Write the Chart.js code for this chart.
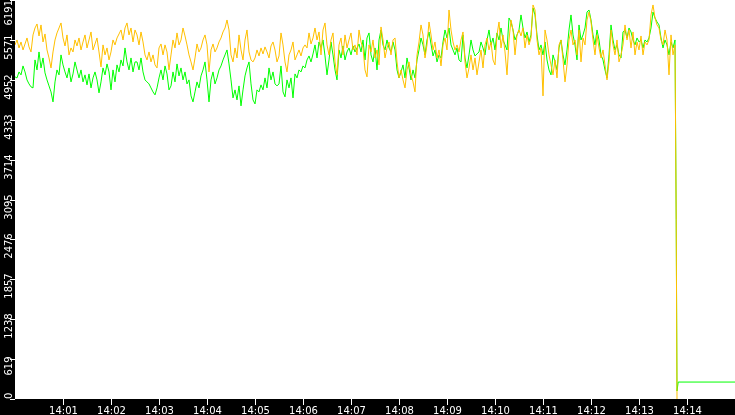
<!DOCTYPE html>
<html>
<head>
<meta charset="utf-8">
<script src="https://cdn.jsdelivr.net/npm/chart.js@4/dist/chart.umd.min.js"></script>
<style>
html,body{margin:0;padding:0;background:#000;}
canvas{display:block;}
</style>
</head>
<body>
<canvas id="c" width="735" height="415"></canvas>
<script>
// ---- data ----
const xTickLabels = ['14:01','14:02','14:03','14:04','14:05','14:06','14:07','14:08','14:09','14:10','14:11','14:12','14:13','14:14'];
const yTickLabels = ['0','619','1238','1857','2476','3095','3714','4333','4952','5571','6191'];
const xStartSeconds = 0;      // 14:00:00
const xEndSeconds = 900;      // 14:15:00
const yMaxValue = 6191;
const sampleStepSeconds = 2.5;

const orangeValues = [
5494,5571,5447,5540,5416,5509,5602,5463,5385,5649,5757,5819,5633,5804,5540,5664,5416,5292,5137,5385,5571,5680,5757,5835,5602,5478,5649,5339,5447,5385,5571,5478,5602,5416,5540,5649,5447,5571,5695,5416,5509,5602,5385,5153,5494,5339,5447,5261,5385,5571,5494,5602,5664,5726,5571,5757,5835,5649,5757,5540,5726,
5649,5494,5695,5540,5339,5261,5385,5230,5339,5184,5137,5447,5509,5339,5494,5385,5106,5339,5571,5447,5680,5494,5571,5757,5633,5494,5339,5230,5106,5292,5509,5385,5447,5571,5649,5494,5075,5416,5509,5385,5447,5540,5602,5695,5757,5881,5726,5339,5230,5447,5292,5649,5416,5261,5571,5726,5385,5261,5230,5292,5416,
5323,5447,5354,5463,5385,5292,5478,5540,5416,5230,5323,5680,5494,5230,5075,5339,5416,5540,5261,5339,5416,5323,5447,5494,5447,5680,5509,5602,5757,5571,5695,5339,5726,5835,5494,5339,5571,5680,5230,5029,5494,5602,5339,5649,5447,5571,5680,5416,5494,5339,5726,5540,5447,5106,4998,5494,5385,5571,5292,5416,
5184,5773,5571,5292,5447,5540,5339,5571,5602,5230,4982,5106,4951,4827,5106,5230,5029,4920,4765,5339,5540,5804,5649,5292,5494,5850,5649,5416,5540,5292,5416,5168,5494,5602,5416,6036,5726,5540,5416,5494,5385,5571,5695,5230,4982,5137,5339,5106,5292,5029,5230,5416,5137,5494,5602,5416,5540,5261,5184,5649,5850,
5447,5649,5385,5029,5571,5881,5726,5339,5649,5726,5633,5757,5447,5649,5494,5602,6114,6036,5571,5339,5447,4703,5726,5571,5339,5184,5029,5261,4982,5494,5571,5261,4920,5184,5571,5726,5494,5571,5339,5726,5230,5602,5494,5881,6005,5850,5571,5339,5649,5447,5292,5416,5184,4951,5230,5726,5494,5339,5571,5230,
5339,5494,5804,5571,5726,5447,5695,5339,5540,5416,5633,5339,5540,5494,5571,5959,6114,5912,5804,5757,5571,5494,5726,5571,5029,5649,5339,5494
];

const greenValues = [
4998,4982,5075,5029,5168,5075,4951,4889,4843,4827,5261,5106,5385,5137,5292,5060,4951,4858,4765,4610,4920,5106,5029,5339,5184,5075,4982,5137,4920,5044,5230,5106,4982,5106,4920,5029,4874,5044,4827,4982,5075,4951,4750,4920,5137,5029,5199,5075,4796,5106,4920,5184,5075,5261,5168,5447,5230,5106,5292,5075,5230,
5230,5106,5292,5075,4951,4920,4889,4827,4765,4719,4827,4982,5106,4951,5168,5044,4796,4858,5075,4920,5199,5013,5137,4951,5075,4889,4951,4703,4610,4765,4920,4827,5013,5106,5230,4951,4610,4951,5075,4889,4982,5106,5168,5261,5339,5416,5199,4951,4672,4796,4641,4858,4548,4796,5013,5137,5230,4889,4641,4579,4796,
4765,4874,4796,4982,4827,5137,4951,5075,4889,4858,4889,5168,4765,4688,4951,4827,4982,4672,5044,4982,5106,5075,5168,5137,5261,5323,5230,5354,5494,5292,5540,5447,5571,5323,5029,5261,5540,5339,5106,4951,5416,5292,5478,5261,5385,5447,5339,5478,5385,5447,5509,5385,5571,5261,5602,5680,5339,5230,5447,5106,
5571,5726,5494,5416,5571,5447,5385,5540,5416,5106,4982,5075,5184,4982,5292,5137,4951,5106,4982,5261,5416,5602,5494,5339,5571,5695,5509,5323,5416,5230,5339,5292,5540,5726,5602,5757,5494,5416,5339,5447,5261,5230,5649,5292,5137,5339,5571,5416,5323,5354,5385,5540,5447,5339,5571,5726,5494,5602,5416,5680,5571,
5757,5571,5494,5416,5912,5850,5726,5571,5649,5726,5959,5757,5602,5695,5540,5649,6067,5959,5649,5416,5494,5339,5540,5261,5106,5029,5339,5230,5106,5447,5571,5339,5184,5416,5726,5959,5649,5494,5261,5804,5571,5649,5757,6005,6036,5881,5649,5494,5726,5571,5339,5261,5106,4982,5339,5804,5571,5416,5494,5339,
5292,5695,5726,5602,5757,5695,5571,5494,5602,5540,5571,5447,5571,5540,5602,5757,6005,5912,5850,5804,5602,5447,5571,5494,5339,5540,5447,5571
];

// after the drop (seconds after 14:00:00)
const tailTimes = [826.5, 827.5, 829, 900];
const orangeTail = [2790, 0];
const greenTail = [2790, 124, 263, 263];

const orangeColor = '#FFC000';
const greenColor = '#00FF00';

// ---- build points ----
function buildPoints(values, tailVals) {
  const pts = values.map((v, i) => ({ x: xStartSeconds + i * sampleStepSeconds, y: v }));
  tailVals.forEach((v, k) => pts.push({ x: tailTimes[k], y: v }));
  return pts;
}

const frame = {
  id: 'frame',
  beforeDraw(chart) {
    const ctx = chart.ctx, a = chart.chartArea;
    ctx.save();
    ctx.fillStyle = '#000';
    ctx.fillRect(0, 0, chart.width, chart.height);
    ctx.fillStyle = '#fff';
    ctx.fillRect(a.left, a.top, a.right - a.left, a.bottom - a.top);
    ctx.restore();
  },
  afterDraw(chart) {
    const ctx = chart.ctx, a = chart.chartArea;
    const xs = chart.scales.x, ys = chart.scales.y;
    ctx.save();
    ctx.strokeStyle = '#fff';
    ctx.fillStyle = '#fff';
    ctx.lineWidth = 1;
    ctx.font = '10px "DejaVu Sans"';
    // x ticks + labels
    ctx.textAlign = 'center';
    ctx.textBaseline = 'alphabetic';
    xTickLabels.forEach(lab => {
      const mins = parseInt(lab.split(':')[1], 10);
      const px = Math.round(xs.getPixelForValue(mins * 60)) + 0.5;
      ctx.beginPath();
      ctx.moveTo(px, a.bottom);
      ctx.lineTo(px, a.bottom + 6);
      ctx.stroke();
      ctx.fillText(lab, px, a.bottom + 15);
    });
    // y ticks + rotated labels
    yTickLabels.forEach(lab => {
      const py = Math.round(ys.getPixelForValue(parseFloat(lab)));
      ctx.beginPath();
      ctx.moveTo(a.left - 5, py + 0.5);
      ctx.lineTo(a.left, py + 0.5);
      ctx.stroke();
      const w = ctx.measureText(lab).width;
      let cy = py + 7;
      cy = Math.max(w / 2, Math.min(a.bottom - w / 2, cy));
      ctx.save();
      ctx.translate(a.left - 3, cy);
      ctx.rotate(-Math.PI / 2);
      ctx.textAlign = 'center';
      ctx.textBaseline = 'alphabetic';
      ctx.fillText(lab, 0, 0);
      ctx.restore();
    });
    ctx.restore();
  }
};

new Chart(document.getElementById('c'), {
  type: 'line',
  data: {
    datasets: [
      { label: 'orange', data: buildPoints(orangeValues, orangeTail), borderColor: orangeColor, borderWidth: 1, pointRadius: 0, tension: 0, fill: false },
      { label: 'green', data: buildPoints(greenValues, greenTail), borderColor: greenColor, borderWidth: 1, pointRadius: 0, tension: 0, fill: false }
    ]
  },
  options: {
    responsive: false,
    animation: false,
    devicePixelRatio: 1,
    layout: { padding: { left: 15, right: 0, top: 0, bottom: 16 } },
    plugins: { legend: { display: false }, tooltip: { enabled: false } },
    scales: {
      x: { type: 'linear', min: xStartSeconds, max: xEndSeconds, display: false },
      y: { type: 'linear', min: 0, max: yMaxValue, display: false }
    }
  },
  plugins: [frame]
});
</script>
</body>
</html>
